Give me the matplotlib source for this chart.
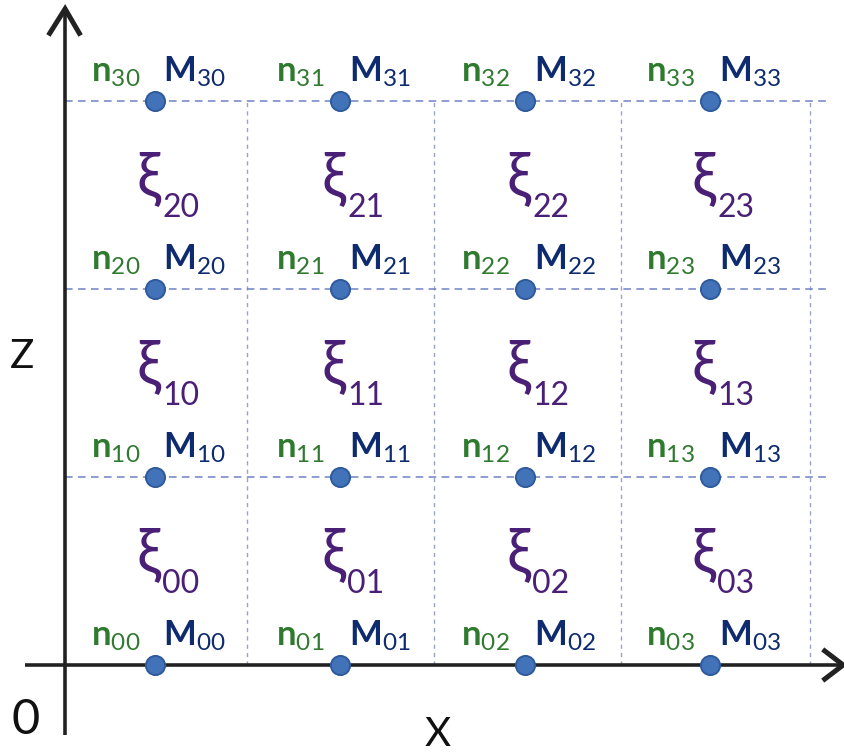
import matplotlib.pyplot as plt

plt.rcParams['mathtext.fontset'] = 'custom'
plt.rcParams['mathtext.rm'] = 'Lato'
plt.rcParams['mathtext.it'] = 'Lato:italic'
plt.rcParams['mathtext.bf'] = 'Lato:bold'

# node columns (x) and rows (z), grid lines
cols = [0, 1, 2, 3]
rows = [0, 1, 2, 3]
grid_x = [0.497, 1.51, 2.52, 3.54]
grid_z = [1, 2, 3]
axis_x = -0.486

n_color = '#2f7a2f'
m_color = '#0d2b6e'
xi_color = '#4a2077'
dot_color = '#4272b8'

fig = plt.figure(figsize=(8.44, 7.54), dpi=100)
ax = fig.add_axes([0, 0, 1, 1])
# pixel x = 155 + 185*x ; pixel y = 665 - 188*z
ax.set_xlim(-155 / 185, (844 - 155) / 185)
ax.set_ylim((665 - 754) / 188, 665 / 188)
ax.axis('off')

# dashed grid
for gx in grid_x:
    ax.plot([gx, gx], [0, 3], color='#9aa3c6', lw=1.0, ls=(0, (3, 3)), zorder=1)
for gz in grid_z:
    ax.plot([axis_x, 3.65], [gz, gz], color='#6f82c4', lw=1.1, ls=(0, (5, 3.5)), zorder=1)

# axes with open chevron arrow heads
ax.plot([axis_x, axis_x], [-0.37, 3.48], color='#222222', lw=2.6, zorder=2,
        solid_capstyle='butt')
ax.plot([-0.70, 3.72], [0, 0], color='#222222', lw=2.6, zorder=2, solid_capstyle='butt')
ax.plot([axis_x - 0.083, axis_x, axis_x + 0.077], [3.36, 3.49, 3.36], color='#222222',
        lw=3.6, solid_joinstyle='miter', zorder=2)
ax.plot([3.62, 3.72, 3.62], [0.075, 0, -0.075], color='#222222',
        lw=3.6, solid_joinstyle='miter', zorder=2)

ax.text(-0.72, 1.64, 'Z', fontsize=29, family='Lato', ha='center', va='center', color='#111111')
ax.text(1.53, -0.37, 'X', fontsize=29, family='Lato', ha='center', va='center', color='#111111')
ax.text(-0.70, -0.29, '0', fontsize=35, family='Lato', ha='center', va='center', color='#111111')

for z in rows:
    for x in cols:
        s = f'{z}{x}'
        ax.scatter([x], [z], s=190, color=dot_color, edgecolor='#2f5a9c', linewidth=1.4, zorder=3)
        ax.text(x - 0.215, z + 0.105, f'n$_\\mathrm{{{s}}}$', fontsize=25, family='Lato',
                fontweight='bold', color=n_color, ha='center', va='baseline', zorder=4)
        ax.text(x + 0.215, z + 0.105, f'M$_\\mathrm{{{s}}}$', fontsize=25, family='Lato',
                fontweight='bold', color=m_color, ha='center', va='baseline', zorder=4)
for z in rows[:3]:
    for x in cols:
        s = f'{z}{x}'
        ax.text(x - 0.035, z + 0.58, 'ξ', fontsize=44, family=['Lato', 'DejaVu Sans'],
                color=xi_color, ha='center', va='center', zorder=4)
        ax.text(x + 0.04, z + 0.385, s, fontsize=23, family='Lato',
                color=xi_color, ha='left', va='baseline', zorder=4)

fig.savefig('out.png', dpi=100)
